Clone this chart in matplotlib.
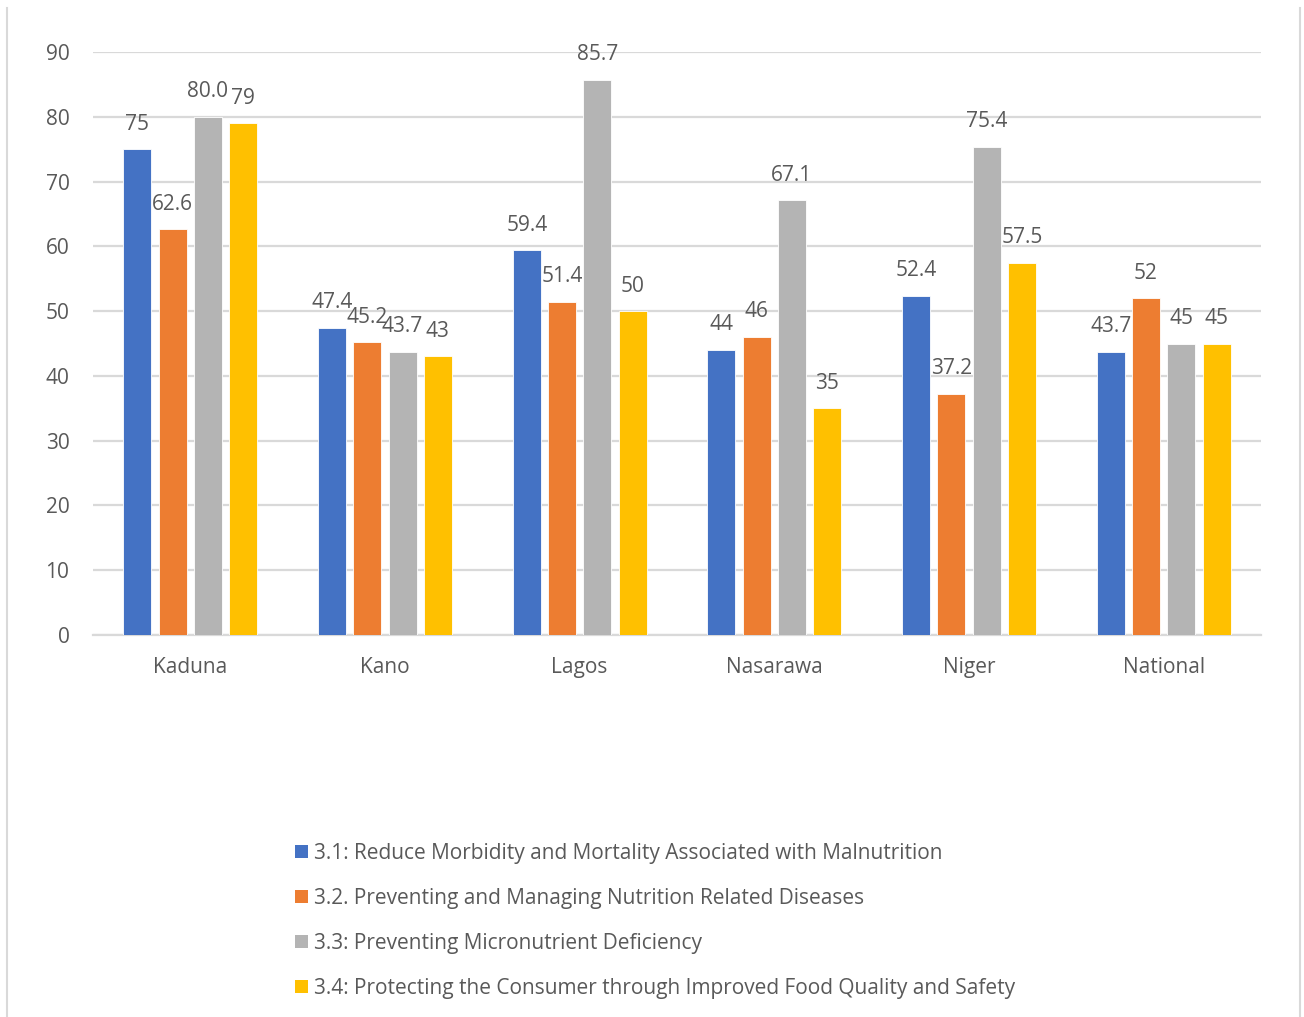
import matplotlib
matplotlib.use("Agg")
import matplotlib.pyplot as plt
from matplotlib.lines import Line2D
from matplotlib.patches import Patch
import numpy as np

plt.rcParams['font.family'] = ['Open Sans', 'DejaVu Sans']

categories = ["Kaduna", "Kano", "Lagos", "Nasarawa", "Niger", "National"]
series_names = [
    "3.1: Reduce Morbidity and Mortality Associated with Malnutrition",
    "3.2. Preventing and Managing Nutrition Related Diseases",
    "3.3: Preventing Micronutrient Deficiency",
    "3.4: Protecting the Consumer through Improved Food Quality and Safety",
]
s31 = [75, 47.4, 59.4, 44, 52.4, 43.7]
s32 = [62.6, 45.2, 51.4, 46, 37.2, 52]
s33 = [80.0, 43.7, 85.7, 67.1, 75.4, 45]
s34 = [79, 43, 50, 35, 57.5, 45]
labels31 = ["75", "47.4", "59.4", "44", "52.4", "43.7"]
labels32 = ["62.6", "45.2", "51.4", "46", "37.2", "52"]
labels33 = ["80.0", "43.7", "85.7", "67.1", "75.4", "45"]
labels34 = ["79", "43", "50", "35", "57.5", "45"]
yticks = [0, 10, 20, 30, 40, 50, 60, 70, 80, 90]

colors = ["#4472C4", "#ED7D31", "#B4B4B4", "#FFC000"]
text_color = "#595959"
grid_color = "#D9D9D9"
fs = 15

fig = plt.figure(figsize=(13.04, 10.17), dpi=100)
ax = fig.add_axes([93 / 1304, 1 - 635 / 1017, (1261 - 93) / 1304, (635 - 52) / 1017])

x = np.arange(len(categories))
bar_w = 0.144
step = 0.181
offsets = (np.arange(4) - 1.5) * step
all_series = [s31, s32, s33, s34]
all_labels = [labels31, labels32, labels33, labels34]

for i, (vals, labs) in enumerate(zip(all_series, all_labels)):
    bars = ax.bar(x + offsets[i], vals, width=bar_w, color=colors[i],
                  edgecolor="white", linewidth=0.6, zorder=3)
    for b, lab in zip(bars, labs):
        ax.annotate(lab, (b.get_x() + b.get_width() / 2, b.get_height()),
                    xytext=(0, 10.5), textcoords="offset points",
                    ha="center", va="bottom", fontsize=fs, color=text_color)

ax.set_xlim(-0.5, len(categories) - 0.5)
ax.set_ylim(0, 90)
ax.set_yticks(yticks)
ax.set_yticklabels([str(t) for t in yticks])
ax.set_xticks(x)
ax.set_xticklabels(categories)
ax.tick_params(axis="both", length=0, labelsize=fs, colors=text_color)
ax.tick_params(axis="y", pad=17)
ax.tick_params(axis="x", pad=16)
ax.yaxis.grid(True, color=grid_color, linewidth=1.6, zorder=0)
ax.set_axisbelow(True)
for side in ["top", "right", "left"]:
    ax.spines[side].set_visible(False)
ax.spines["bottom"].set_color(grid_color)
ax.spines["bottom"].set_linewidth(1.6)

handles = [Patch(facecolor=c, edgecolor="none") for c in colors]
leg = fig.legend(handles, series_names, loc="upper left",
                 bbox_to_anchor=(295 / 1304, 1 - 843 / 1017),
                 frameon=False, fontsize=fs, labelcolor=text_color,
                 handlelength=0.62, handleheight=0.62, handletextpad=0.29,
                 labelspacing=1.15, borderpad=0, borderaxespad=0)

# chart area border
fig.add_artist(Line2D([7 / 1304, 7 / 1304], [0, 1 - 8 / 1017], transform=fig.transFigure,
                      color=grid_color, linewidth=1.5))
fig.add_artist(Line2D([1300 / 1304, 1300 / 1304], [0, 1 - 8 / 1017], transform=fig.transFigure,
                      color=grid_color, linewidth=1.5))

fig.savefig("out.png", dpi=100, facecolor="white")
